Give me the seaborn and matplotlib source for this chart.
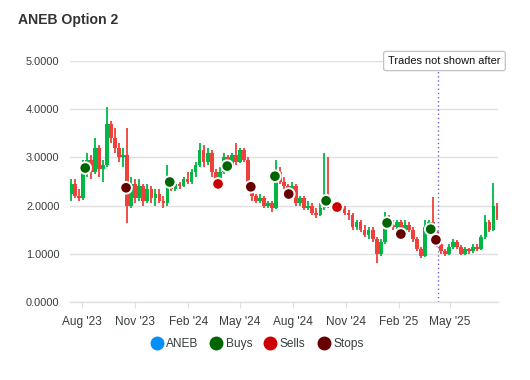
import numpy as np
import pandas as pd
import matplotlib
matplotlib.use("Agg")
import matplotlib.pyplot as plt
import matplotlib.dates as mdates
from matplotlib.lines import Line2D
import seaborn as sns

sns.set_theme(style="white")
plt.rcParams["font.family"] = ["Liberation Sans", "DejaVu Sans"]

# ---------------- data ----------------
start_date = "2023-07-12"
n_weeks = 107
opens = [2.25, 2.45, 2.20, 2.15, 2.85, 2.95, 2.70, 3.20, 2.75, 2.85,
         3.70, 3.40, 3.20, 3.00, 3.05, 2.00, 2.45, 2.15, 2.40, 2.10,
         2.35, 2.15, 2.25, 2.10, 2.05, 2.55, 2.35, 2.45, 2.40, 2.55,
         2.50, 2.70, 2.85, 3.15, 2.90, 3.10, 2.70, 2.55, 2.70, 3.00,
         2.85, 3.05, 2.90, 3.15, 2.95, 2.35, 2.20, 2.10, 2.15, 2.00,
         2.05, 1.95, 2.70, 2.50, 2.40, 2.30, 2.40, 2.05, 2.15, 1.95,
         2.00, 1.85, 1.80, 1.95, 2.15, 2.00, 2.05, 1.90, 1.95, 1.85,
         1.80, 1.55, 1.65, 1.50, 1.40, 1.50, 1.30, 1.00, 1.25, 1.75,
         1.60, 1.55, 1.65, 1.45, 1.60, 1.50, 1.30, 1.10, 0.95, 1.55,
         1.65, 1.45, 1.20, 1.05, 1.00, 1.15, 1.25, 1.15, 1.00, 1.10,
         1.05, 1.15, 1.10, 1.35, 1.65, 1.50, 2.00]
highs = [2.55, 2.55, 2.35, 2.95, 3.10, 3.05, 3.40, 3.25, 2.95, 4.05,
         3.75, 3.60, 3.30, 3.20, 3.60, 2.60, 2.55, 2.55, 2.45, 2.45,
         2.40, 2.35, 2.35, 2.20, 2.84, 2.60, 2.50, 2.50, 2.60, 2.70,
         2.75, 2.90, 3.30, 3.25, 3.20, 3.15, 2.75, 2.80, 3.10, 3.05,
         3.10, 3.30, 3.20, 3.20, 3.00, 2.40, 2.25, 2.25, 2.20, 2.10,
         2.10, 2.95, 2.80, 2.60, 2.45, 2.50, 2.45, 2.20, 2.20, 2.10,
         2.05, 1.95, 2.05, 3.10, 3.00, 2.10, 2.10, 2.00, 2.00, 1.90,
         1.85, 1.70, 1.70, 1.60, 1.55, 1.55, 1.35, 1.30, 1.87, 1.80,
         1.70, 1.70, 1.70, 1.70, 1.65, 1.55, 1.35, 1.15, 1.70, 1.70,
         2.18, 1.50, 1.25, 1.10, 1.20, 1.30, 1.28, 1.18, 1.15, 1.12,
         1.20, 1.20, 1.40, 1.80, 1.70, 2.47, 2.05]
lows = [2.10, 2.15, 2.10, 2.12, 2.60, 2.55, 2.65, 2.60, 2.50, 2.80,
        3.30, 3.10, 2.90, 2.80, 1.64, 1.95, 2.05, 2.10, 2.00, 2.05,
        2.05, 2.00, 2.05, 1.95, 2.00, 2.30, 2.30, 2.35, 2.38, 2.45,
        2.45, 2.60, 2.80, 2.80, 2.85, 2.60, 2.45, 2.50, 2.65, 2.75,
        2.80, 2.85, 2.88, 2.90, 2.30, 2.10, 2.05, 2.05, 1.95, 1.95,
        1.87, 1.93, 2.45, 2.35, 2.25, 2.25, 2.00, 2.00, 1.90, 1.90,
        1.80, 1.75, 1.78, 1.90, 1.95, 1.90, 1.85, 1.85, 1.80, 1.70,
        1.50, 1.50, 1.45, 1.35, 1.30, 1.25, 0.81, 0.95, 1.20, 1.55,
        1.50, 1.50, 1.40, 1.42, 1.45, 1.25, 1.05, 0.91, 0.93, 1.45,
        1.40, 1.15, 1.00, 0.95, 0.98, 1.10, 1.10, 0.98, 0.98, 1.00,
        1.02, 1.05, 1.08, 1.30, 1.45, 1.48, 1.70]
closes = [2.45, 2.20, 2.15, 2.85, 2.95, 2.70, 3.20, 2.75, 2.85, 3.70,
          3.40, 3.20, 3.00, 3.05, 2.00, 2.45, 2.15, 2.40, 2.10, 2.35,
          2.15, 2.25, 2.10, 2.05, 2.55, 2.35, 2.45, 2.40, 2.55, 2.50,
          2.70, 2.85, 3.15, 2.90, 3.10, 2.70, 2.55, 2.70, 3.00, 2.85,
          3.05, 2.90, 3.15, 2.95, 2.35, 2.20, 2.10, 2.15, 2.00, 2.05,
          1.95, 2.70, 2.50, 2.40, 2.30, 2.40, 2.05, 2.15, 1.95, 2.00,
          1.85, 1.80, 1.95, 2.15, 2.00, 2.05, 1.90, 1.95, 1.85, 1.80,
          1.55, 1.65, 1.50, 1.40, 1.50, 1.30, 1.00, 1.25, 1.75, 1.60,
          1.55, 1.65, 1.45, 1.60, 1.50, 1.30, 1.10, 0.95, 1.55, 1.65,
          1.45, 1.20, 1.05, 1.00, 1.15, 1.25, 1.15, 1.00, 1.10, 1.05,
          1.15, 1.10, 1.35, 1.65, 1.50, 2.00, 1.75]

trade_dates = ["2023-08-06", "2023-10-16", "2023-12-31", "2024-03-24",
               "2024-04-09", "2024-05-20", "2024-07-01", "2024-07-25",
               "2024-09-28", "2024-10-17", "2025-01-12", "2025-02-05",
               "2025-03-29", "2025-04-07"]
trade_prices = [2.78, 2.37, 2.49, 2.45, 2.82, 2.39, 2.61, 2.24,
                2.10, 1.97, 1.64, 1.41, 1.51, 1.29]
trade_types = ["Buys", "Stops", "Buys", "Sells", "Buys", "Stops", "Buys",
               "Stops", "Buys", "Sells", "Buys", "Stops", "Buys", "Stops"]

cutoff_date = "2025-04-11"
cutoff_label = "Trades not shown after"
title = "ANEB Option 2"
series_name = "ANEB"
y_ticks = [0, 1, 2, 3, 4, 5]
x_tick_dates = ["2023-08-01", "2023-11-01", "2024-02-01", "2024-05-01",
                "2024-08-01", "2024-11-01", "2025-02-01", "2025-05-01"]
x_tick_labels = ["Aug '23", "Nov '23", "Feb '24", "May '24",
                 "Aug '24", "Nov '24", "Feb '25", "May '25"]

# ---------------- styling ----------------
UP = "#00B746"
DOWN = "#EF403C"
GRID = "#e0e0e0"
TXT = "#373d3f"
trade_colors = {"Buys": "#006400", "Sells": "#CC0000", "Stops": "#660000"}
series_color = "#008FFB"

df = pd.DataFrame({
    "date": pd.date_range(start_date, periods=n_weeks, freq="7D"),
    "open": opens, "high": highs, "low": lows, "close": closes,
})
df["color"] = np.where(df["close"] >= df["open"], UP, DOWN)

trades = pd.DataFrame({"date": pd.to_datetime(trade_dates),
                       "price": trade_prices, "type": trade_types})

fig = plt.figure(figsize=(5.3, 3.8), dpi=100)
ax = fig.add_axes([70 / 530, 78 / 380, 428 / 530, 241 / 380])

# grid
for y in y_ticks:
    ax.axhline(y, color=GRID, lw=1, zorder=0)

# candles
ax.vlines(df["date"], df["low"], df["high"], colors=df["color"], lw=1.3, zorder=2)
body = (df["close"] - df["open"]).abs().clip(lower=0.03)
bottom = df[["open", "close"]].min(axis=1)
ax.bar(df["date"], body, bottom=bottom, width=6.4, color=df["color"],
       linewidth=0, zorder=3)

# cutoff annotation
cut = pd.Timestamp(cutoff_date)
ax.axvline(cut, color="#775DD0", lw=1, ls=(0, (1, 2)), zorder=1)
ax.annotate(cutoff_label, xy=(mdates.date2num(cut), 5.0), xytext=(4.5, 0),
            textcoords="offset points", ha="center", va="center",
            fontsize=7.9, color="#111111", annotation_clip=False, zorder=6,
            bbox=dict(boxstyle="round,pad=0.42,rounding_size=0.2", fc="white",
                      ec="#c2c2c2", lw=0.9))

# trades
sns.scatterplot(data=trades, x="date", y="price", hue="type",
                palette=trade_colors, s=70, edgecolor="white", linewidth=1.4,
                legend=False, ax=ax, zorder=5)

# axes formatting
ax.set_xlim(mdates.date2num(pd.Timestamp("2023-07-10 12:00")),
            mdates.date2num(pd.Timestamp("2025-07-24")))
ax.set_ylim(0, 5)
ax.set_yticks(y_ticks)
ax.set_yticklabels([f"{v:.4f}" for v in y_ticks], fontsize=7.9, color=TXT)
ax.set_xticks(mdates.date2num(pd.to_datetime(x_tick_dates)))
ax.set_xticklabels(x_tick_labels, fontsize=8.6, color=TXT)
ax.tick_params(axis="y", length=0, pad=7.5)
ax.tick_params(axis="x", length=4.3, width=0.8, color=GRID, pad=5.5, bottom=True)
ax.set_xlabel("")
ax.set_ylabel("")
for s in ["top", "right", "left"]:
    ax.spines[s].set_visible(False)
ax.spines["bottom"].set_color(GRID)
ax.spines["bottom"].set_linewidth(1)
ax.set_facecolor("white")

# title
fig.text(18 / 530, 1 - 20 / 380, title, fontsize=10.1, fontweight="bold",
         color="#333333", ha="left", va="center")

# legend
handles = [Line2D([0], [0], marker="o", ls="", markersize=9,
                  markerfacecolor=c, markeredgecolor=c)
           for c in [series_color, trade_colors["Buys"],
                     trade_colors["Sells"], trade_colors["Stops"]]]
fig.legend(handles, [series_name, "Buys", "Sells", "Stops"], loc="center",
           bbox_to_anchor=(0.485, 1 - 344 / 380), ncol=4, frameon=False,
           fontsize=8.6, handletextpad=0.3, columnspacing=1.0,
           handlelength=1.0, labelcolor=TXT)

fig.savefig("out.png", dpi=100, facecolor="white")
